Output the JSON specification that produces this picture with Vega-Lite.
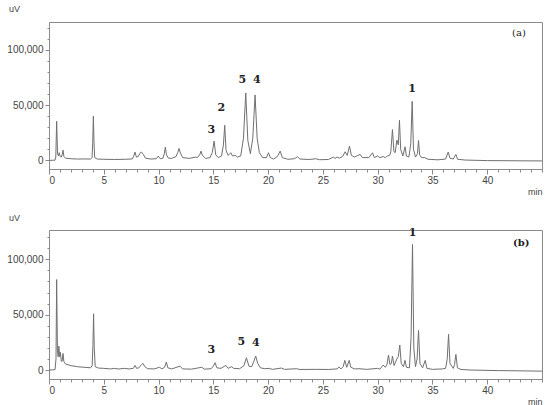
{
  "$schema": "https://vega.github.io/schema/vega-lite/v6.json",
  "autosize": "pad",
  "padding": {"top": 3, "left": 6, "right": 0, "bottom": 0},
  "background": "white",
  "spacing": 61,
  "bounds": "flush",
  "config": {
    "view": {"stroke": "#8a8a8a", "strokeWidth": 1},
    "axis": {"grid": false, "labelFont": "Liberation Sans", "labelFontSize": 10, "labelColor": "#444", "domainColor": "#8a8a8a", "tickColor": "#8a8a8a", "titleFont": "Liberation Sans", "titleFontSize": 9, "titleFontWeight": "normal", "titleColor": "#444"}
  },
  "datasets": {
    "a": [
      {"t":0,"v":0},{"t":0.55,"v":200},{"t":0.62,"v":3000},{"t":0.7,"v":35400},{"t":0.78,"v":6000},{"t":0.86,"v":4000},{"t":0.93,"v":7000},{"t":1.02,"v":3500},{"t":1.12,"v":3000},{"t":1.2,"v":5000},{"t":1.28,"v":9300},{"t":1.36,"v":3500},{"t":1.5,"v":2000},{"t":2.0,"v":1500},{"t":2.6,"v":1200},{"t":3.2,"v":1300},{"t":3.8,"v":1200},{"t":3.93,"v":2500},{"t":3.99,"v":16000},{"t":4.05,"v":40000},{"t":4.11,"v":16000},{"t":4.17,"v":2500},{"t":4.4,"v":1200},{"t":5.0,"v":1000},{"t":6.0,"v":800},{"t":7.0,"v":1000},{"t":7.6,"v":1300},{"t":7.72,"v":3500},{"t":7.85,"v":7500},{"t":7.98,"v":3000},{"t":8.15,"v":3500},{"t":8.3,"v":6500},{"t":8.45,"v":7500},{"t":8.6,"v":5500},{"t":8.8,"v":2000},{"t":9.3,"v":1200},{"t":9.8,"v":1500},{"t":9.97,"v":3900},{"t":10.15,"v":1500},{"t":10.4,"v":2000},{"t":10.52,"v":6000},{"t":10.62,"v":12000},{"t":10.72,"v":5000},{"t":10.9,"v":2000},{"t":11.2,"v":1800},{"t":11.6,"v":3500},{"t":11.75,"v":7000},{"t":11.87,"v":10800},{"t":12.0,"v":6500},{"t":12.2,"v":2500},{"t":12.8,"v":1800},{"t":13.4,"v":3000},{"t":13.55,"v":2500},{"t":13.75,"v":5000},{"t":13.88,"v":8400},{"t":14.0,"v":4500},{"t":14.3,"v":1800},{"t":14.7,"v":2500},{"t":14.9,"v":7000},{"t":15.07,"v":17400},{"t":15.22,"v":5000},{"t":15.45,"v":2500},{"t":15.75,"v":4000},{"t":15.92,"v":14000},{"t":16.04,"v":31800},{"t":16.16,"v":9000},{"t":16.35,"v":4500},{"t":16.59,"v":6900},{"t":16.75,"v":4000},{"t":17.0,"v":4500},{"t":17.2,"v":3000},{"t":17.5,"v":4000},{"t":17.75,"v":20000},{"t":17.96,"v":61000},{"t":18.15,"v":18000},{"t":18.38,"v":6000},{"t":18.6,"v":20000},{"t":18.81,"v":59200},{"t":19.0,"v":20000},{"t":19.2,"v":7000},{"t":19.5,"v":2500},{"t":19.85,"v":2500},{"t":20.03,"v":6900},{"t":20.2,"v":2500},{"t":20.5,"v":1200},{"t":20.85,"v":3500},{"t":21.1,"v":8400},{"t":21.3,"v":2500},{"t":21.8,"v":1000},{"t":22.4,"v":1500},{"t":22.68,"v":3300},{"t":22.9,"v":1200},{"t":23.8,"v":800},{"t":24.35,"v":1500},{"t":24.7,"v":600},{"t":25.5,"v":800},{"t":25.97,"v":3000},{"t":26.1,"v":1800},{"t":26.3,"v":3000},{"t":26.5,"v":2000},{"t":26.8,"v":3500},{"t":27.03,"v":7800},{"t":27.22,"v":4500},{"t":27.43,"v":12900},{"t":27.6,"v":4500},{"t":27.9,"v":3000},{"t":28.4,"v":5500},{"t":28.6,"v":2500},{"t":29.2,"v":2500},{"t":29.53,"v":6900},{"t":29.7,"v":2500},{"t":29.98,"v":4000},{"t":30.2,"v":2500},{"t":30.5,"v":3500},{"t":30.7,"v":2500},{"t":30.9,"v":4000},{"t":31.1,"v":4500},{"t":31.2,"v":8000},{"t":31.35,"v":27900},{"t":31.48,"v":8000},{"t":31.6,"v":7000},{"t":31.75,"v":18300},{"t":31.88,"v":14000},{"t":31.99,"v":36300},{"t":32.1,"v":10000},{"t":32.3,"v":4000},{"t":32.5,"v":12300},{"t":32.62,"v":4000},{"t":32.85,"v":3000},{"t":33.02,"v":15000},{"t":33.15,"v":53400},{"t":33.27,"v":10000},{"t":33.45,"v":3000},{"t":33.63,"v":6000},{"t":33.73,"v":18000},{"t":33.83,"v":5000},{"t":34.0,"v":2500},{"t":34.3,"v":2500},{"t":34.6,"v":1000},{"t":35.5,"v":500},{"t":36.2,"v":1200},{"t":36.44,"v":7500},{"t":36.6,"v":2000},{"t":36.9,"v":1200},{"t":37.14,"v":5400},{"t":37.3,"v":1000},{"t":38.0,"v":300},{"t":40,"v":-200},{"t":45,"v":-500}
    ],
    "b": [
      {"t":0,"v":0},{"t":0.55,"v":300},{"t":0.64,"v":10000},{"t":0.7,"v":81700},{"t":0.77,"v":18000},{"t":0.84,"v":12000},{"t":0.9,"v":21600},{"t":0.97,"v":12000},{"t":1.04,"v":16000},{"t":1.12,"v":8000},{"t":1.2,"v":8000},{"t":1.28,"v":15000},{"t":1.36,"v":7500},{"t":1.5,"v":5500},{"t":2.0,"v":4000},{"t":2.6,"v":3000},{"t":3.2,"v":2500},{"t":3.8,"v":2000},{"t":3.94,"v":4000},{"t":4.01,"v":22000},{"t":4.07,"v":50800},{"t":4.13,"v":20000},{"t":4.22,"v":3000},{"t":4.5,"v":1800},{"t":5.0,"v":1500},{"t":5.6,"v":1000},{"t":6.0,"v":1500},{"t":6.3,"v":900},{"t":6.9,"v":1500},{"t":7.3,"v":1000},{"t":7.7,"v":1500},{"t":7.85,"v":4200},{"t":8.0,"v":1500},{"t":8.2,"v":2000},{"t":8.45,"v":5000},{"t":8.58,"v":6000},{"t":8.75,"v":3000},{"t":9.0,"v":1200},{"t":9.6,"v":1000},{"t":10.1,"v":2500},{"t":10.3,"v":1000},{"t":10.55,"v":2500},{"t":10.71,"v":7200},{"t":10.85,"v":2000},{"t":11.2,"v":1000},{"t":11.96,"v":3500},{"t":12.2,"v":1000},{"t":13.0,"v":800},{"t":13.94,"v":2500},{"t":14.2,"v":800},{"t":14.8,"v":1200},{"t":15.0,"v":3500},{"t":15.16,"v":6600},{"t":15.32,"v":2000},{"t":15.7,"v":1500},{"t":16.14,"v":4200},{"t":16.35,"v":1500},{"t":16.65,"v":3000},{"t":16.85,"v":1500},{"t":17.4,"v":1200},{"t":17.8,"v":4000},{"t":18.02,"v":11100},{"t":18.25,"v":3500},{"t":18.5,"v":3000},{"t":18.7,"v":8000},{"t":18.87,"v":12600},{"t":19.05,"v":6000},{"t":19.3,"v":2000},{"t":19.7,"v":1200},{"t":20.1,"v":1500},{"t":20.4,"v":600},{"t":21.22,"v":1800},{"t":21.5,"v":600},{"t":22.6,"v":1200},{"t":22.9,"v":500},{"t":24.3,"v":600},{"t":25.5,"v":500},{"t":26.3,"v":1000},{"t":26.48,"v":2700},{"t":26.65,"v":1000},{"t":26.85,"v":3000},{"t":27.0,"v":8700},{"t":27.18,"v":2500},{"t":27.4,"v":8700},{"t":27.55,"v":2500},{"t":27.9,"v":1000},{"t":28.3,"v":1200},{"t":29.0,"v":600},{"t":30.0,"v":1500},{"t":30.2,"v":800},{"t":30.5,"v":4500},{"t":30.7,"v":2500},{"t":30.85,"v":5000},{"t":30.99,"v":13500},{"t":31.12,"v":5000},{"t":31.25,"v":6000},{"t":31.35,"v":12600},{"t":31.5,"v":4000},{"t":31.75,"v":10000},{"t":31.88,"v":12000},{"t":32.02,"v":22600},{"t":32.15,"v":6000},{"t":32.35,"v":3000},{"t":32.5,"v":8700},{"t":32.62,"v":2500},{"t":32.9,"v":2000},{"t":33.05,"v":30000},{"t":33.18,"v":113500},{"t":33.3,"v":20000},{"t":33.45,"v":3000},{"t":33.6,"v":10000},{"t":33.73,"v":35800},{"t":33.86,"v":6000},{"t":34.1,"v":2000},{"t":34.34,"v":8700},{"t":34.5,"v":1500},{"t":35.0,"v":600},{"t":35.9,"v":1000},{"t":36.2,"v":1500},{"t":36.35,"v":10000},{"t":36.47,"v":32200},{"t":36.6,"v":6000},{"t":36.9,"v":1500},{"t":37.02,"v":5000},{"t":37.14,"v":14100},{"t":37.28,"v":2000},{"t":37.6,"v":500},{"t":38.5,"v":0},{"t":41,"v":-500},{"t":45,"v":-1000}
    ],
    "la": [
      {"t":33.15,"v":64900,"label":"1"},{"t":15.74,"v":47500,"label":"2"},{"t":14.82,"v":27900,"label":"3"},{"t":18.97,"v":73000,"label":"4"},{"t":17.65,"v":73000,"label":"5"}
    ],
    "lb": [
      {"t":33.18,"v":123500,"label":"1"},{"t":14.82,"v":18000,"label":"3"},{"t":18.87,"v":24700,"label":"4"},{"t":17.56,"v":25300,"label":"5"}
    ]
  },
  "vconcat": [
    {
      "width": 493,
      "height": 147,
      "layer": [
        {
          "data": {"name": "a"},
          "mark": {"type": "line", "color": "#707070", "strokeWidth": 1, "interpolate": "linear"},
          "encoding": {
            "x": {"field": "t", "type": "quantitative", "scale": {"domain": [0, 45], "nice": false, "zero": false},
                  "axis": {"orient": "bottom", "values": [0,5,10,15,20,25,30,35,40], "tickSize": 5, "labelPadding": 1, "title": "min", "titleX": 493, "titleY": 22, "titleAlign": "right", "titleBaseline": "middle", "titleAnchor": null}},
            "y": {"field": "v", "type": "quantitative", "scale": {"domain": [-7800, 125200], "nice": false, "zero": false},
                  "axis": {"orient": "left", "values": [0, 50000, 100000], "labelExpr": "format(datum.value, ',')", "tickSize": 4, "labelPadding": 2, "title": "uV", "titleAngle": 0, "titleX": -35, "titleY": -14, "titleAlign": "center", "titleBaseline": "middle", "titleAnchor": null}}
          }
        },
        {
          "data": {"name": "la"},
          "mark": {"type": "text", "font": "DejaVu Serif", "fontWeight": "bold", "fontSize": 11, "color": "#222", "baseline": "middle"},
          "encoding": {
            "x": {"field": "t", "type": "quantitative", "axis": {"orient": "bottom", "values": [0,1,2,3,4,5,6,7,8,9,10,11,12,13,14,15,16,17,18,19,20,21,22,23,24,25,26,27,28,29,30,31,32,33,34,35,36,37,38,39,40,41,42,43,44,45], "labels": false, "domain": false, "tickSize": 3, "title": null}},
            "y": {"field": "v", "type": "quantitative", "axis": {"orient": "left", "values": [10000,20000,30000,40000,60000,70000,80000,90000,110000,120000], "labels": false, "domain": false, "tickSize": 2, "title": null}},
            "text": {"field": "label"}
          }
        },
        {
          "data": {"values": [{"t": 42.9, "v": 115300, "label": "(a)"}]},
          "mark": {"type": "text", "font": "DejaVu Serif", "fontSize": 10, "color": "#222", "baseline": "middle"},
          "encoding": {
            "x": {"field": "t", "type": "quantitative", "axis": null},
            "y": {"field": "v", "type": "quantitative", "axis": null},
            "text": {"field": "label"}
          }
        }
      ],
      "resolve": {"axis": {"x": "independent", "y": "independent"}}
    },
    {
      "width": 493,
      "height": 149,
      "layer": [
        {
          "data": {"name": "b"},
          "mark": {"type": "line", "color": "#707070", "strokeWidth": 1, "interpolate": "linear"},
          "encoding": {
            "x": {"field": "t", "type": "quantitative", "scale": {"domain": [0, 45], "nice": false, "zero": false},
                  "axis": {"orient": "bottom", "values": [0,5,10,15,20,25,30,35,40], "tickSize": 5, "labelPadding": 1, "title": "min", "titleX": 493, "titleY": 22, "titleAlign": "right", "titleBaseline": "middle", "titleAnchor": null}},
            "y": {"field": "v", "type": "quantitative", "scale": {"domain": [-8100, 126500], "nice": false, "zero": false},
                  "axis": {"orient": "left", "values": [0, 50000, 100000], "labelExpr": "format(datum.value, ',')", "tickSize": 4, "labelPadding": 2, "title": "uV", "titleAngle": 0, "titleX": -35, "titleY": -13, "titleAlign": "center", "titleBaseline": "middle", "titleAnchor": null}}
          }
        },
        {
          "data": {"name": "lb"},
          "mark": {"type": "text", "font": "DejaVu Serif", "fontWeight": "bold", "fontSize": 11, "color": "#222", "baseline": "middle"},
          "encoding": {
            "x": {"field": "t", "type": "quantitative", "axis": {"orient": "bottom", "values": [0,1,2,3,4,5,6,7,8,9,10,11,12,13,14,15,16,17,18,19,20,21,22,23,24,25,26,27,28,29,30,31,32,33,34,35,36,37,38,39,40,41,42,43,44,45], "labels": false, "domain": false, "tickSize": 3, "title": null}},
            "y": {"field": "v", "type": "quantitative", "axis": {"orient": "left", "values": [10000,20000,30000,40000,60000,70000,80000,90000,110000,120000], "labels": false, "domain": false, "tickSize": 2, "title": null}},
            "text": {"field": "label"}
          }
        },
        {
          "data": {"values": [{"t": 43.1, "v": 114700, "label": "(b)"}]},
          "mark": {"type": "text", "font": "DejaVu Serif", "fontWeight": "bold", "fontSize": 10, "color": "#222", "baseline": "middle"},
          "encoding": {
            "x": {"field": "t", "type": "quantitative", "axis": null},
            "y": {"field": "v", "type": "quantitative", "axis": null},
            "text": {"field": "label"}
          }
        }
      ],
      "resolve": {"axis": {"x": "independent", "y": "independent"}}
    }
  ]
}
